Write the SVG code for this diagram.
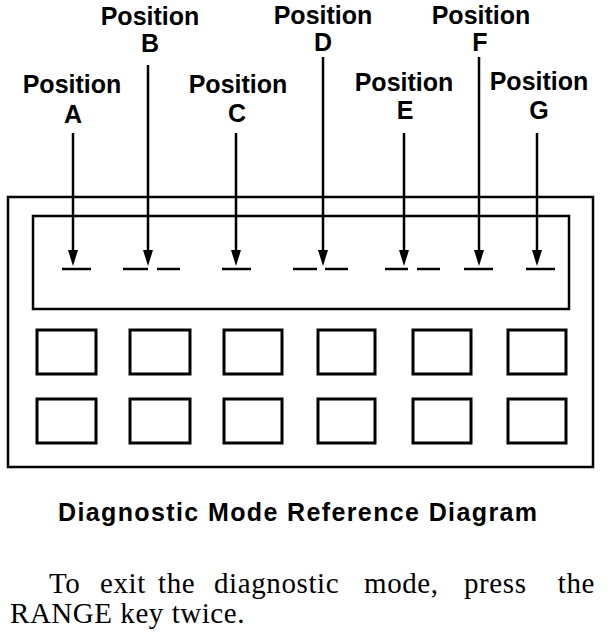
<svg xmlns="http://www.w3.org/2000/svg" width="608" height="640" viewBox="0 0 608 640">
<style>
.lbl{font-family:"Liberation Sans",Arial,sans-serif;font-weight:bold;font-size:25px;fill:#000;text-anchor:middle}
.ttl{font-family:"Liberation Sans",Arial,sans-serif;font-weight:bold;font-size:25px;fill:#000}
.body{font-family:"Liberation Serif","Times New Roman",serif;font-size:29px;letter-spacing:0.6px;fill:#000}
.frame{fill:none;stroke:#000;stroke-width:2.5}
.key{fill:none;stroke:#000;stroke-width:3}
.arrow{stroke:#000;stroke-width:2.5;fill:none}
.dash{stroke:#000;stroke-width:2.5}
</style>
<defs>
<marker id="ah" viewBox="0 0 16 10" refX="8" refY="5" markerWidth="16" markerHeight="10" markerUnits="userSpaceOnUse" orient="auto">
<path d="M0,0 L16,5 L0,10 z" fill="#000"/>
</marker>
</defs>
<rect id="body-frame" class="frame" x="8" y="197" width="585" height="270"/>
<g id="display">
<rect class="frame" x="33" y="216" width="536" height="93"/>
<g id="segments">
<line class="dash" x1="62" y1="269" x2="91" y2="269"/>
<line class="dash" x1="123" y1="269" x2="148" y2="269"/>
<line class="dash" x1="157" y1="269" x2="180" y2="269"/>
<line class="dash" x1="222" y1="269" x2="251" y2="269"/>
<line class="dash" x1="293" y1="269" x2="317" y2="269"/>
<line class="dash" x1="325" y1="269" x2="348" y2="269"/>
<line class="dash" x1="385" y1="269" x2="408" y2="269"/>
<line class="dash" x1="417" y1="269" x2="440" y2="269"/>
<line class="dash" x1="464" y1="269" x2="493" y2="269"/>
<line class="dash" x1="526" y1="269" x2="555" y2="269"/>
</g>
</g>
<g id="keys">
<rect class="key" x="37" y="330" width="59" height="44"/>
<rect class="key" x="130" y="330" width="60" height="44"/>
<rect class="key" x="224" y="330" width="58" height="44"/>
<rect class="key" x="318" y="330" width="57" height="44"/>
<rect class="key" x="413" y="330" width="58" height="44"/>
<rect class="key" x="508" y="330" width="58" height="44"/>
<rect class="key" x="37" y="399" width="59" height="44"/>
<rect class="key" x="130" y="399" width="60" height="44"/>
<rect class="key" x="224" y="399" width="58" height="44"/>
<rect class="key" x="318" y="399" width="57" height="44"/>
<rect class="key" x="413" y="399" width="58" height="44"/>
<rect class="key" x="508" y="399" width="58" height="44"/>
</g>
<g id="posA"><text class="lbl" x="72" y="93">Position</text><text class="lbl" x="73" y="123">A</text></g>
<g id="posB"><text class="lbl" x="150" y="25">Position</text><text class="lbl" x="150" y="52">B</text></g>
<g id="posC"><text class="lbl" x="238" y="93">Position</text><text class="lbl" x="237" y="122">C</text></g>
<g id="posD"><text class="lbl" x="323" y="24">Position</text><text class="lbl" x="323" y="51">D</text></g>
<g id="posE"><text class="lbl" x="404" y="91">Position</text><text class="lbl" x="405" y="119">E</text></g>
<g id="posF"><text class="lbl" x="481" y="24">Position</text><text class="lbl" x="480" y="51">F</text></g>
<g id="posG"><text class="lbl" x="539" y="90">Position</text><text class="lbl" x="539" y="119">G</text></g>
<g id="connectors">
<line class="arrow" x1="73" y1="133" x2="73" y2="258" marker-end="url(#ah)"/>
<line class="arrow" x1="148" y1="65" x2="148" y2="258" marker-end="url(#ah)"/>
<line class="arrow" x1="236" y1="133" x2="236" y2="258" marker-end="url(#ah)"/>
<line class="arrow" x1="323" y1="57" x2="323" y2="258" marker-end="url(#ah)"/>
<line class="arrow" x1="404" y1="133" x2="404" y2="258" marker-end="url(#ah)"/>
<line class="arrow" x1="479" y1="57" x2="479" y2="258" marker-end="url(#ah)"/>
<line class="arrow" x1="537" y1="133" x2="537" y2="258" marker-end="url(#ah)"/>
</g>
<text class="ttl" x="58" y="521" textLength="479" lengthAdjust="spacing">Diagnostic Mode Reference Diagram</text>
<g id="note" class="body">
<text x="49" y="593">To</text>
<text x="100" y="593">exit</text>
<text x="158" y="593">the</text>
<text x="214" y="593">diagnostic</text>
<text x="364" y="593">mode,</text>
<text x="464" y="593">press</text>
<text x="595" y="593" text-anchor="end">the</text>
<text x="10" y="623" textLength="235" lengthAdjust="spacing">RANGE key twice.</text>
</g>
</svg>
